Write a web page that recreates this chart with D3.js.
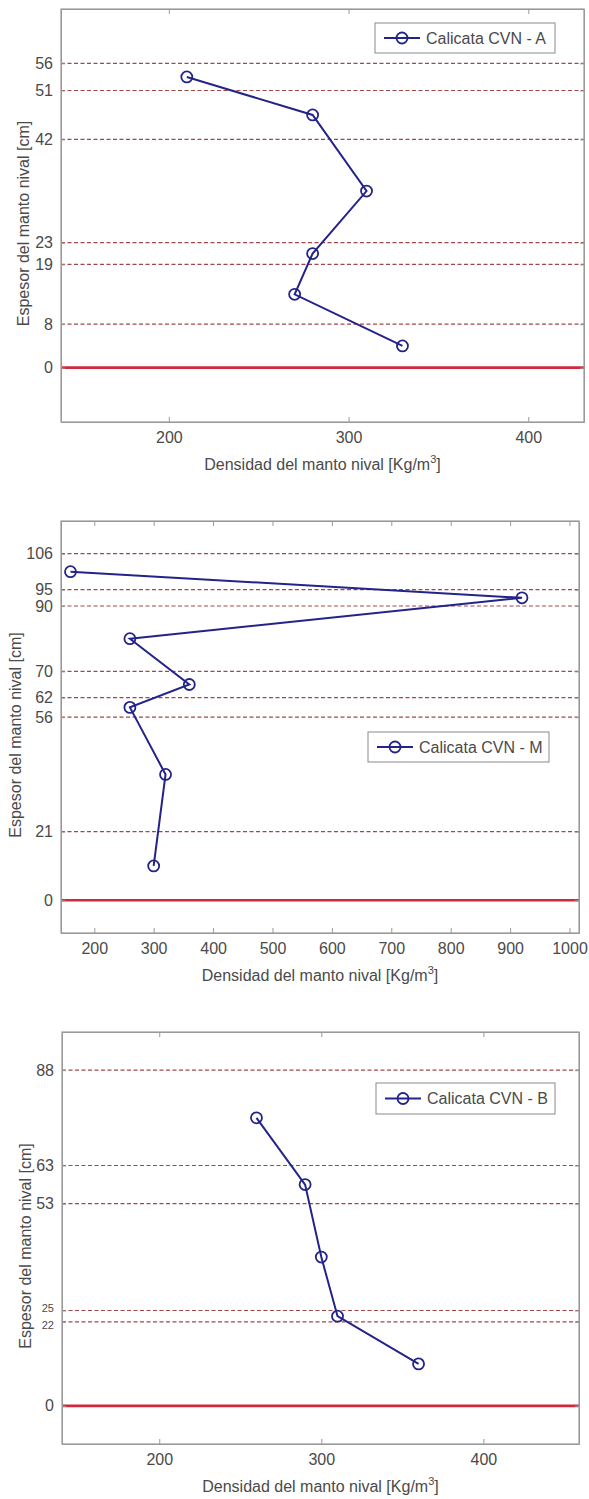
<!DOCTYPE html>
<html>
<head>
<meta charset="utf-8">
<script src="https://cdn.jsdelivr.net/npm/d3@7"></script>
<style>
  html, body { margin: 0; padding: 0; background: #fff; }
  svg { display: block; }
  text { font-family: "Liberation Sans", Arial, sans-serif; fill: #4a4a4a; }
</style>
</head>
<body>
<script>
// Snow-pit density profiles: layer boundaries (cm), mid-layer depth (cm), density (kg/m3)

// Calicata CVN - A
const layersA = [0, 8, 19, 23, 42, 51, 56];
const depthA = [4, 13.5, 21, 32.5, 46.5, 53.5];
const densityA = [330, 270, 280, 310, 280, 210];
const xTicksA = [200, 300, 400];

// Calicata CVN - M
const layersM = [0, 21, 56, 62, 70, 90, 95, 106];
const depthM = [10.5, 38.5, 59, 66, 80, 92.5, 100.5];
const densityM = [300, 320, 260, 360, 260, 920, 160];
const xTicksM = [200, 300, 400, 500, 600, 700, 800, 900, 1000];

// Calicata CVN - B
const layersB = [0, 22, 25, 53, 63, 88];
const depthB = [11, 23.5, 39, 58, 75.5];
const densityB = [360, 310, 300, 290, 260];
const xTicksB = [200, 300, 400];

const seriesNames = ["Calicata CVN - A", "Calicata CVN - M", "Calicata CVN - B"];
const xTitle = "Densidad del manto nival [Kg/m";
const yTitle = "Espesor del manto nival [cm]";

// Frame geometry for each panel
const frames = [
  { left: 61, right: 584, top: 9, bottom: 422, xDom: [140, 431], yDom: [-10, 66],
    legend: { x: 375, y: 23, w: 180, h: 30 }, yTitleX: 23 },
  { left: 61, right: 579, top: 521, bottom: 933, xDom: [144, 1016], yDom: [-10, 116],
    legend: { x: 368, y: 732, w: 181, h: 30 }, yTitleX: 15 },
  { left: 62, right: 579, top: 1032, bottom: 1444, xDom: [140, 459], yDom: [-10, 98],
    legend: { x: 376, y: 1083, w: 179, h: 31 }, yTitleX: 25 }
];

const panels = [
  { layers: layersA, depth: depthA, density: densityA, xTicks: xTicksA, name: seriesNames[0] },
  { layers: layersM, depth: depthM, density: densityM, xTicks: xTicksM, name: seriesNames[1] },
  { layers: layersB, depth: depthB, density: densityB, xTicks: xTicksB, name: seriesNames[2] }
];

const W = 589, H = 1499;
const lineBlue = "#23238a";
const dashRed = "#a04848";
const zeroRed = "#d0283c";
const frameGray = "#9a9a9a";

const svg = d3.select("body").append("svg")
  .attr("width", W).attr("height", H)
  .attr("viewBox", `0 0 ${W} ${H}`);

svg.append("rect").attr("width", W).attr("height", H).attr("fill", "#fff");

panels.forEach((p, i) => {
  const f = frames[i];
  const x = d3.scaleLinear().domain(f.xDom).range([f.left, f.right]);
  const y = d3.scaleLinear().domain(f.yDom).range([f.bottom, f.top]);
  const g = svg.append("g");

  // layer boundaries
  const bounds = p.layers.filter(v => v !== 0);
  g.selectAll("line.layer").data(bounds).join("line")
    .attr("class", "layer")
    .attr("x1", f.left).attr("x2", f.right)
    .attr("y1", d => y(d)).attr("y2", d => y(d))
    .attr("stroke", dashRed).attr("stroke-width", 1.2)
    .attr("stroke-dasharray", "4,2.5");

  // ground level
  g.append("line")
    .attr("x1", f.left).attr("x2", f.right)
    .attr("y1", y(0)).attr("y2", y(0))
    .attr("stroke", zeroRed).attr("stroke-width", 2.6);

  // axes: bottom/top with inward ticks
  const xAxisB = d3.axisBottom(x).tickValues(p.xTicks).tickFormat(d3.format("d"))
    .tickSizeInner(-5).tickSizeOuter(0).tickPadding(10);
  const xAxisT = d3.axisTop(x).tickValues(p.xTicks).tickSizeInner(-5).tickSizeOuter(0).tickFormat("");
  const yAxisL = d3.axisLeft(y).tickValues(p.layers).tickFormat(d3.format("d"))
    .tickSizeInner(-4).tickSizeOuter(0).tickPadding(8);
  const yAxisR = d3.axisRight(y).tickValues(p.layers).tickSizeInner(-4).tickSizeOuter(0).tickFormat("");

  const styleAxis = sel => {
    sel.select(".domain").attr("stroke", frameGray);
    sel.selectAll(".tick line").attr("stroke", frameGray);
    sel.selectAll(".tick text").attr("font-size", 16).attr("fill", "#4a4a4a")
      .attr("font-family", "Liberation Sans, Arial, sans-serif");
  };

  g.append("g").attr("transform", `translate(0,${f.bottom})`).call(xAxisB).call(styleAxis);
  g.append("g").attr("transform", `translate(0,${f.top})`).call(xAxisT).call(styleAxis);
  const yl = g.append("g").attr("transform", `translate(${f.left},0)`).call(yAxisL).call(styleAxis);
  g.append("g").attr("transform", `translate(${f.right},0)`).call(yAxisR).call(styleAxis);

  // tightly spaced boundary labels get a smaller size and are nudged apart
  const sorted = p.layers.slice().sort((a, b) => a - b);
  yl.selectAll(".tick text").each(function (d) {
    const k = sorted.indexOf(d);
    const below = k > 0 ? y(sorted[k - 1]) - y(d) : Infinity;
    const above = k < sorted.length - 1 ? y(d) - y(sorted[k + 1]) : Infinity;
    if (Math.min(below, above) < 15) {
      const t = d3.select(this).attr("font-size", 11);
      if (above < 15 && below >= 15) t.attr("dy", "0.6em");
      if (below < 15 && above >= 15) t.attr("dy", "0.1em");
    }
  });

  // frame
  g.append("rect")
    .attr("x", f.left).attr("y", f.top)
    .attr("width", f.right - f.left).attr("height", f.bottom - f.top)
    .attr("fill", "none").attr("stroke", frameGray).attr("stroke-width", 1.2);

  // density profile
  const pts = p.depth.map((d, k) => [p.density[k], d]);
  g.append("path")
    .datum(pts)
    .attr("fill", "none").attr("stroke", lineBlue).attr("stroke-width", 2)
    .attr("d", d3.line().x(d => x(d[0])).y(d => y(d[1])));
  g.selectAll("circle.pt").data(pts).join("circle")
    .attr("class", "pt")
    .attr("cx", d => x(d[0])).attr("cy", d => y(d[1]))
    .attr("r", 5.5).attr("fill", "none")
    .attr("stroke", lineBlue).attr("stroke-width", 1.8);

  // axis titles
  const xt = g.append("text")
    .attr("x", (f.left + f.right) / 2).attr("y", f.bottom + 48)
    .attr("text-anchor", "middle").attr("font-size", 16);
  xt.append("tspan").text(xTitle);
  xt.append("tspan").attr("font-size", 11).attr("dy", -7).text("3");
  xt.append("tspan").attr("dy", 7).text("]");

  g.append("text")
    .attr("transform", `translate(${f.yTitleX},${(f.top + f.bottom) / 2 + 8}) rotate(-90)`)
    .attr("text-anchor", "middle").attr("dominant-baseline", "central")
    .attr("font-size", 16).text(yTitle);

  // legend
  const L = f.legend;
  const lg = g.append("g");
  lg.append("rect")
    .attr("x", L.x).attr("y", L.y).attr("width", L.w).attr("height", L.h)
    .attr("fill", "#fff").attr("stroke", "#8a8a8a").attr("stroke-width", 1);
  const cy = L.y + L.h / 2;
  lg.append("line")
    .attr("x1", L.x + 9).attr("x2", L.x + 45).attr("y1", cy).attr("y2", cy)
    .attr("stroke", lineBlue).attr("stroke-width", 2);
  lg.append("circle")
    .attr("cx", L.x + 27).attr("cy", cy).attr("r", 5.5)
    .attr("fill", "none").attr("stroke", lineBlue).attr("stroke-width", 1.8);
  lg.append("text")
    .attr("x", L.x + 51).attr("y", cy).attr("dominant-baseline", "central")
    .attr("font-size", 16).text(p.name);
});
</script>
</body>
</html>
